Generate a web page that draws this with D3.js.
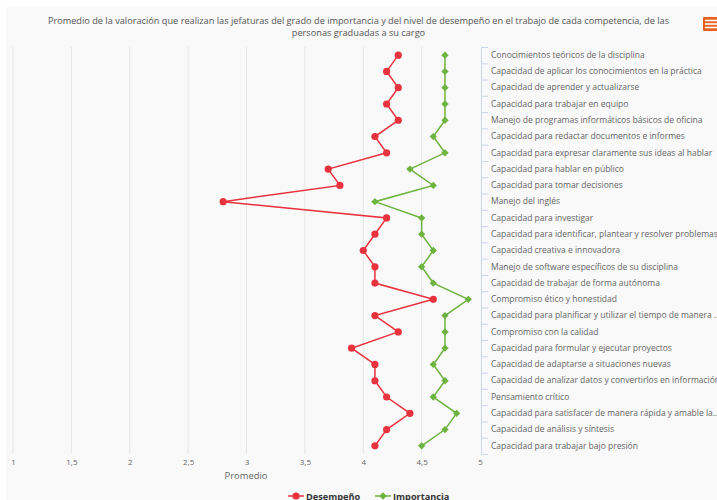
<!DOCTYPE html>
<html><head><meta charset="utf-8">
<script src="https://cdn.jsdelivr.net/npm/d3@7"></script>
<style>
html,body{margin:0;padding:0;background:#fff;overflow:hidden;}
svg{display:block;font-family:"Open Sans",sans-serif;}
</style></head><body>
<svg id="c" width="717" height="500"></svg>
<script>
const categories = [
"Conocimientos teóricos de la disciplina",
"Capacidad de aplicar los conocimientos en la práctica",
"Capacidad de aprender y actualizarse",
"Capacidad para trabajar en equipo",
"Manejo de programas informáticos básicos de oficina",
"Capacidad para redactar documentos e informes",
"Capacidad para expresar claramente sus ideas al hablar",
"Capacidad para hablar en público",
"Capacidad para tomar decisiones",
"Manejo del inglés",
"Capacidad para investigar",
"Capacidad para identificar, plantear y resolver problemas",
"Capacidad creativa e innovadora",
"Manejo de software específicos de su disciplina",
"Capacidad de trabajar de forma autónoma",
"Compromiso ético y honestidad",
"Capacidad para planificar y utilizar el tiempo de manera …",
"Compromiso con la calidad",
"Capacidad para formular y ejecutar proyectos",
"Capacidad de adaptarse a situaciones nuevas",
"Capacidad de analizar datos y convertirlos en información",
"Pensamiento crítico",
"Capacidad para satisfacer de manera rápida y amable la…",
"Capacidad de análisis y síntesis",
"Capacidad para trabajar bajo presión"
];
const desempeno = [4.3,4.2,4.3,4.2,4.3,4.1,4.2,3.7,3.8,2.8,4.2,4.1,4.0,4.1,4.1,4.6,4.1,4.3,3.9,4.1,4.1,4.2,4.4,4.2,4.1];
const importancia = [4.7,4.7,4.7,4.7,4.7,4.6,4.7,4.4,4.6,4.1,4.5,4.5,4.6,4.5,4.6,4.9,4.7,4.7,4.7,4.6,4.7,4.6,4.8,4.7,4.5];
const xTicks = [1,1.5,2,2.5,3,3.5,4,4.5,5];
const seriesNames = ["Desempeño","Importancia"];
const colors = ["#e8323e","#6db33f"];
const titleLines = ["Promedio de la valoración que realizan las jefaturas del grado de importancia y del nivel de desempeño en el trabajo de cada competencia, de las","personas graduadas a su cargo"];

const svg = d3.select("#c");
svg.append("rect").attr("x",6).attr("y",7).attr("width",711).attr("height",493).attr("fill","#f9f9f9");

svg.append("text").attr("x",358.5).attr("y",24).attr("text-anchor","middle")
  .attr("font-size","9.2px").attr("fill","#555")
  .selectAll("tspan").data(titleLines).join("tspan")
  .attr("x",358.5).attr("dy",(d,i)=>i?12:0).text(d=>d);

svg.append("rect").attr("x",703).attr("y",17).attr("width",16).attr("height",14).attr("rx",1).attr("fill","#e8601c");
[20.5,24,27.5].forEach(yy=>svg.append("rect").attr("x",705).attr("y",yy-0.8).attr("width",12).attr("height",1.6).attr("fill","#fff"));

const pTop = 47, pBottom = 454, pLeft = 13, pRight = 481;
const x = d3.scaleLinear().domain([1,5]).range([pLeft,pRight-1]);
const y = d3.scaleBand().domain(categories).range([pTop,pBottom]);
const yc = d => y(d) + y.bandwidth()/2;

svg.append("g").selectAll("line").data(xTicks.slice(0,-1)).join("line")
  .attr("x1",d=>x(d)).attr("x2",d=>x(d)).attr("y1",pTop).attr("y2",pBottom)
  .attr("stroke","#e6e6e6").attr("stroke-width",1);

const xa = svg.append("g").attr("transform",`translate(0,${pBottom})`)
  .call(d3.axisBottom(x).tickValues(xTicks).tickSize(0).tickPadding(5)
    .tickFormat(d=>String(d).replace(".",",")));
xa.select(".domain").remove();
xa.selectAll("text").attr("font-family","'Open Sans',sans-serif").attr("font-size","8px").attr("fill","#666");

svg.append("text").attr("x",246).attr("y",479).attr("text-anchor","middle")
  .attr("font-size","9.4px").attr("fill","#666").text("Promedio");

const ya = svg.append("g").attr("transform",`translate(${pRight},0)`)
  .call(d3.axisRight(y).tickSize(0).tickPadding(10));
ya.select(".domain").attr("stroke","#ccd6eb");
ya.selectAll("text").attr("font-family","'Open Sans',sans-serif").attr("font-size","8.5px").attr("fill","#666").attr("text-anchor","start");
const bounds = categories.map(c=>y(c)).concat([pBottom]);
ya.selectAll("line.bt").data(bounds).join("line").attr("class","bt")
  .attr("x1",0).attr("x2",7).attr("y1",d=>d+0.5).attr("y2",d=>d+0.5)
  .attr("stroke","#ccd6eb");

const data = [desempeno, importancia];
const line = d3.line().x(d=>x(d.v)).y(d=>yc(d.c));
data.forEach((vals,si)=>{
  const pts = vals.map((v,i)=>({v,c:categories[i]}));
  svg.append("path").datum(pts).attr("d",line).attr("fill","none")
    .attr("stroke",colors[si]).attr("stroke-width",1.5);
  if(si===0){
    svg.append("g").selectAll("circle").data(pts).join("circle")
      .attr("cx",d=>x(d.v)).attr("cy",d=>yc(d.c)).attr("r",3.6).attr("fill",colors[si]);
  } else {
    svg.append("g").selectAll("path").data(pts).join("path")
      .attr("d",d3.symbol(d3.symbolDiamond2,34)())
      .attr("transform",d=>`translate(${x(d.v)},${yc(d.c)})`).attr("fill",colors[si]);
  }
});

const lg = svg.append("g").attr("transform","translate(288,496)");
const lx = [0, 87];
seriesNames.forEach((n,i)=>{
  const g = lg.append("g").attr("transform",`translate(${lx[i]},0)`);
  g.append("line").attr("x1",0).attr("x2",16).attr("y1",0).attr("y2",0).attr("stroke",colors[i]).attr("stroke-width",1.5);
  if(i===0) g.append("circle").attr("cx",8).attr("cy",0).attr("r",3.6).attr("fill",colors[i]);
  else g.append("path").attr("d",d3.symbol(d3.symbolDiamond2,34)()).attr("transform","translate(8,0)").attr("fill",colors[i]);
  g.append("text").attr("x",18).attr("y",3.5).attr("font-size","9.2px").attr("font-weight","bold").attr("fill","#333").text(n);
});
</script>
</body></html>
